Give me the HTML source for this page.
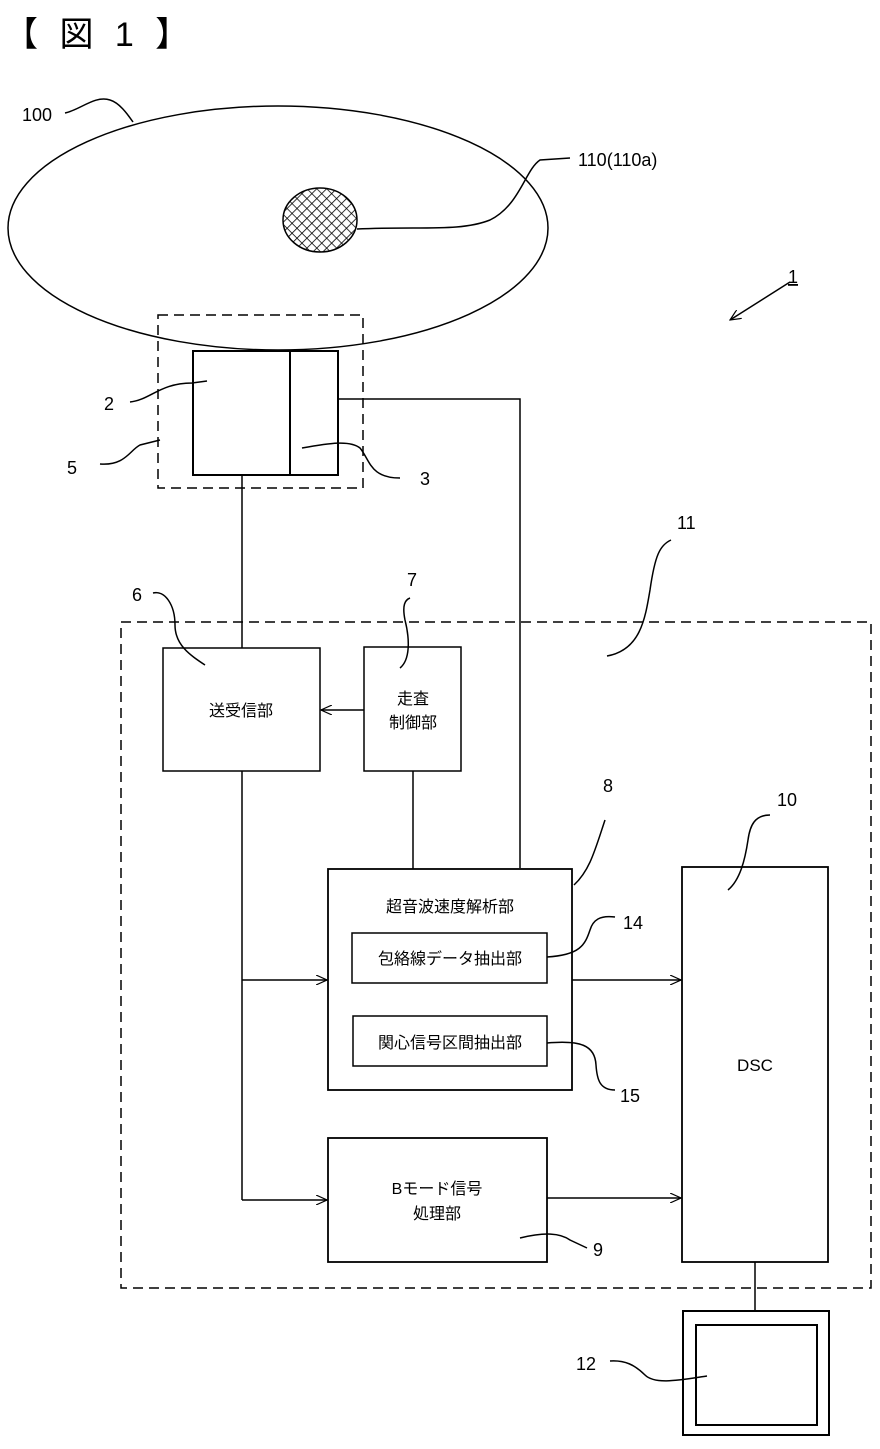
<!DOCTYPE html>
<html><head><meta charset="utf-8"><style>
html,body{margin:0;padding:0;background:#fff;}
svg{display:block;}
text{font-family:"Liberation Sans","Noto Sans CJK JP",sans-serif;fill:#000;}
</style></head><body>
<svg width="880" height="1449" viewBox="0 0 880 1449" xmlns="http://www.w3.org/2000/svg">
<defs>
<pattern id="h" width="7" height="7" patternUnits="userSpaceOnUse" patternTransform="rotate(45)">
<path d="M0 0H7M0 0V7" stroke="#000" stroke-width="1.6"/>
</pattern>
<marker id="a" markerWidth="12" markerHeight="10" refX="11" refY="5" orient="auto" markerUnits="userSpaceOnUse">
<path d="M0 0L11 5L0 10" fill="none" stroke="#000" stroke-width="1.2"/>
</marker>
</defs>
<text x="4" y="46" font-size="34" letter-spacing="6">【 図 1 】</text>
<g fill="none" stroke="#000" stroke-width="1.5">
<ellipse cx="278" cy="228" rx="270" ry="122"/>
<ellipse cx="320" cy="220" rx="37" ry="32" fill="url(#h)"/>
<path d="M65 113 C80 110 95 95 110 100 C120 103 128 115 133 122"/>
<path d="M357 229 C420 226 460 232 490 220 C520 205 525 170 540 160 L570 158"/>
<rect x="158" y="315" width="205" height="173" stroke-dasharray="10,6"/>
<rect x="193" y="351" width="145" height="124" stroke-width="2"/>
<line x1="290" y1="351" x2="290" y2="475" stroke-width="2"/>
<path d="M338 399 H520 V868"/>
<line x1="242" y1="475" x2="242" y2="648"/>
<path d="M130 402 C150 400 160 383 192 383 L207 381"/>
<path d="M100 464 C125 466 130 450 140 445 L160 440"/>
<path d="M302 448 C330 443 350 440 360 448 C370 460 370 478 400 478"/>
<rect x="121" y="622" width="750" height="666" stroke-dasharray="10,6"/>
<rect x="163" y="648" width="157" height="123"/>
<rect x="364" y="647" width="97" height="124"/>
<line x1="364" y1="710" x2="321" y2="710" marker-end="url(#a)"/>
<line x1="413" y1="771" x2="413" y2="869"/>
<path d="M153 593 C165 590 175 605 175 625 C175 645 190 655 205 665"/>
<path d="M400 668 C410 660 410 640 405 620 C402 605 405 600 410 598"/>
<path d="M607 656 C640 650 645 620 650 590 C655 555 660 545 671 540"/>
<path d="M790 282 L730 320" stroke-width="1.5" marker-end="url(#a)"/>
<rect x="328" y="869" width="244" height="221" stroke-width="1.8"/>
<rect x="352" y="933" width="195" height="50"/>
<rect x="353" y="1016" width="194" height="50"/>
<path d="M574 885 C590 870 595 850 605 820"/>
<path d="M547 957 C580 955 585 945 590 930 C593 920 600 915 615 917"/>
<path d="M547 1043 C580 1040 595 1045 596 1065 C597 1080 600 1090 615 1090"/>
<line x1="242" y1="771" x2="242" y2="1200"/>
<line x1="242" y1="980" x2="327" y2="980" marker-end="url(#a)"/>
<line x1="242" y1="1200" x2="327" y2="1200" marker-end="url(#a)"/>
<line x1="572" y1="980" x2="681" y2="980" marker-end="url(#a)"/>
<rect x="328" y="1138" width="219" height="124" stroke-width="1.8"/>
<line x1="547" y1="1198" x2="681" y2="1198" marker-end="url(#a)"/>
<path d="M520 1238 C545 1232 560 1233 570 1240 L587 1248"/>
<rect x="682" y="867" width="146" height="395" stroke-width="1.8"/>
<path d="M728 890 C740 880 745 860 748 840 C750 825 755 815 770 815"/>
<line x1="755" y1="1262" x2="755" y2="1310"/>
<rect x="683" y="1311" width="146" height="124" stroke-width="2"/>
<rect x="696" y="1325" width="121" height="100" stroke-width="2"/>
<path d="M610 1361 C625 1360 635 1365 645 1375 C655 1385 680 1380 707 1376"/>
</g>
<g font-size="18">
<text x="22" y="121">100</text>
<text x="578" y="166">110(110a)</text>
<text x="788" y="283" text-decoration="underline">1</text>
<text x="104" y="410">2</text>
<text x="67" y="474">5</text>
<text x="420" y="485">3</text>
<text x="677" y="529">11</text>
<text x="132" y="601">6</text>
<text x="407" y="586">7</text>
<text x="603" y="792">8</text>
<text x="777" y="806">10</text>
<text x="623" y="929">14</text>
<text x="620" y="1102">15</text>
<text x="593" y="1256">9</text>
<text x="576" y="1370">12</text>
</g>
<text x="241" y="716" font-size="16" text-anchor="middle">送受信部</text>
<text x="413" y="704" font-size="16" text-anchor="middle">走査</text>
<text x="413" y="728" font-size="16" text-anchor="middle">制御部</text>
<text x="450" y="912" font-size="16" text-anchor="middle">超音波速度解析部</text>
<text x="450" y="964" font-size="16" text-anchor="middle">包絡線データ抽出部</text>
<text x="450" y="1048" font-size="16" text-anchor="middle">関心信号区間抽出部</text>
<text x="437" y="1194" font-size="16" text-anchor="middle">Bモード信号</text>
<text x="437" y="1219" font-size="16" text-anchor="middle">処理部</text>
<text x="755" y="1071" font-size="17" text-anchor="middle">DSC</text>
</svg>
</body></html>
